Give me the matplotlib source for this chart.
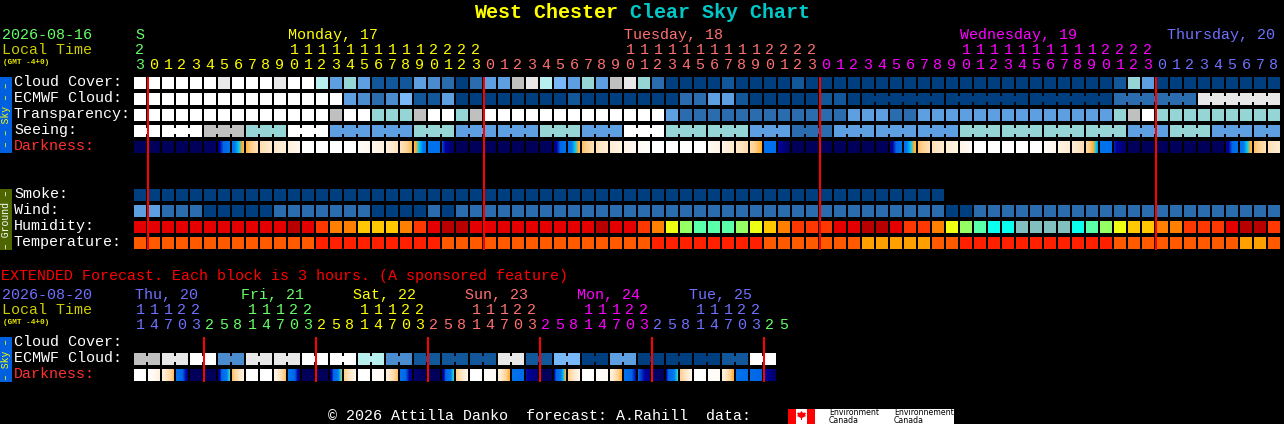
import numpy as np
import matplotlib
matplotlib.use("Agg")
import matplotlib.pyplot as plt
from matplotlib.colors import LinearSegmentedColormap
from matplotlib.patches import Rectangle

# level colours for the sky rows, index = code used in the rows below
SKY_COLORS = ["#003f7f", "#13579b", "#2b6cae", "#4a8ccd", "#5e9fe2", "#78b8f8",
              "#95d5d5", "#b8f0f0", "#c0c0c0", "#e8e8e8", "#ffffff"]

# main chart, one value per hour (82 blocks)
CLOUD = [10, 10, 10, 10, 10, 10, 9, 10, 10, 10, 9, 10, 10, 7, 4, 6, 4, 1, 1, 1, 4, 3, 2, 0,
         2, 4, 4, 8, 9, 7, 5, 4, 6, 4, 8, 9, 6, 2, 0, 0, 0, 0, 1, 0, 0, 0, 0, 1, 0, 0, 0, 0,
         0, 0, 0, 0, 0, 0, 0, 0, 0, 0, 0, 0, 0, 0, 0, 0, 0, 0, 1, 6, 4, 0, 0, 0, 0, 0, 0, 0, 0, 0]
ECMWF = [10, 10, 10, 10, 10, 10, 10, 10, 10, 10, 10, 10, 10, 10, 10, 4, 3, 2, 3, 5, 1, 1, 4, 0,
         0, 0, 0, 0, 0, 0, 0, 1, 0, 0, 0, 0, 0, 0, 0, 2, 2, 4, 4, 1, 0, 0, 0, 0, 0, 1, 1, 0,
         0, 0, 0, 0, 0, 0, 0, 0, 0, 0, 0, 0, 0, 0, 0, 0, 0, 0, 2, 2, 2, 2, 2, 2, 9, 9, 9, 9, 9, 9]
TRANSPARENCY = [10, 10, 10, 10, 10, 10, 10, 10, 10, 10, 10, 10, 10, 10, 8, 10, 10, 6, 6, 6, 8, 10, 10, 6,
                8, 10, 10, 10, 10, 10, 10, 10, 10, 10, 10, 10, 10, 10, 4, 2, 2, 2, 2, 2, 2, 2, 2, 2, 2, 2, 2, 4,
                4, 4, 2, 2, 4, 4, 4, 4, 4, 4, 4, 4, 4, 4, 4, 4, 4, 4, 6, 8, 10, 6, 6, 6, 6, 6, 6, 6, 6, 6]
SEEING = [10, 10, 10, 10, 10, 8, 8, 8, 6, 6, 6, 10, 10, 10, 4, 4, 4, 4, 4, 4, 6, 6, 6, 4,
          4, 4, 4, 4, 4, 6, 6, 6, 4, 4, 4, 10, 10, 10, 6, 6, 6, 6, 6, 6, 4, 4, 4, 2, 2, 2, 4, 4,
          4, 4, 4, 4, 4, 4, 4, 6, 6, 6, 6, 6, 6, 6, 6, 6, 6, 6, 6, 4, 4, 4, 6, 6, 6, 4, 4, 4, 4, 4]
ECMWF_GROUPS = [1] * 52 + [6] * 5
SEEING_GROUPS = [2] + [3] * 26 + [2]

# left and right end of each darkness block, 0 = night, 1 = full day
DARKNESS = [(0, 0), (0, 0), (0, 0), (0, 0), (0, 0), (0.02, 0.02), (0.12, 0.3), (0.32, 0.52), (0.52, 0.7), (0.68, 0.78),
            (0.76, 0.84), (0.84, 0.92), (1, 1), (1, 1), (1, 1), (1, 1), (0.96, 0.92), (0.92, 0.84), (0.84, 0.72), (0.72, 0.54),
            (0.52, 0.32), (0.3, 0.3), (0.18, 0.03), (0, 0), (0, 0), (0, 0), (0, 0), (0, 0), (0, 0), (0.01, 0.01),
            (0.1, 0.3), (0.3, 0.52), (0.55, 0.7), (0.7, 0.8), (0.8, 0.88), (0.88, 0.94), (0.95, 0.98), (1, 1), (1, 1), (1, 1),
            (1, 1), (0.94, 0.88), (0.88, 0.76), (0.76, 0.68), (0.66, 0.5), (0.3, 0.3), (0.13, 0.02), (0, 0), (0, 0), (0, 0),
            (0, 0), (0, 0), (0, 0), (0, 0), (0.1, 0.3), (0.32, 0.52), (0.55, 0.7), (0.7, 0.78), (0.8, 0.88), (0.9, 0.95),
            (1, 1), (1, 1), (1, 1), (1, 1), (1, 1), (0.96, 0.92), (0.88, 0.8), (0.8, 0.68), (0.66, 0.4), (0.3, 0.3),
            (0.16, 0.04), (0, 0), (0, 0), (0, 0), (0, 0), (0, 0), (0, 0), (0, 0), (0.1, 0.3), (0.3, 0.52),
            (0.55, 0.7), (0.7, 0.78)]

SMOKE = [0] * 58
WIND = [4, 4, 2, 2, 2, 0, 0, 0, 0, 0, 2, 2, 2, 2, 2, 2, 2, 0, 0, 0, 0, 2, 0, 2,
        2, 2, 2, 2, 2, 2, 2, 2, 2, 2, 2, 2, 2, 2, 2, 2, 2, 2, 2, 2, 2, 2, 2, 2, 2, 2, 2, 2,
        2, 2, 2, 2, 2, 2, 0, 0, 2, 2, 2, 2, 2, 2, 2, 2, 2, 2, 2, 2, 2, 2, 2, 2, 2, 2, 2, 2, 2, 2]

# humidity steps, driest first
HUMIDITY_COLORS = ["#b80000", "#e40000", "#ff3700", "#ff8000", "#ffc800", "#eeff14",
                   "#96ff64", "#5affaa", "#0affee", "#82c0c0"]
HUMIDITY = [1, 1, 1, 1, 1, 1, 1, 1, 1, 1, 1, 0, 1, 2, 3, 3, 4, 4, 4, 3, 2, 1, 0, 0,
            1, 1, 1, 1, 1, 1, 1, 1, 1, 0, 1, 1, 2, 3, 5, 6, 7, 7, 7, 6, 5, 4, 3, 2, 2, 2, 1, 1,
            0, 0, 1, 2, 2, 3, 5, 6, 7, 8, 8, 9, 9, 9, 9, 8, 7, 6, 5, 4, 4, 3, 3, 2, 2, 2, 1, 0, 0, 2]
TEMP_COLORS = ["#ff2000", "#ff5a00", "#ffa000"]
TEMPERATURE = [1, 1, 1, 1, 1, 1, 1, 1, 1, 1, 1, 1, 1, 0, 0, 0, 0, 0, 0, 0, 0, 0, 1, 1,
               1, 1, 1, 1, 1, 1, 1, 1, 1, 1, 1, 1, 1, 0, 0, 0, 0, 0, 0, 0, 0, 1, 1, 1, 1, 1, 1, 1,
               2, 2, 2, 2, 2, 1, 1, 0, 0, 0, 0, 0, 0, 0, 0, 0, 0, 0, 1, 1, 1, 1, 1, 1, 1, 1, 1, 2, 2, 1]

# hours on top of the main chart
HOURS = [23, 0, 1, 2, 3, 4, 5, 6, 7, 8, 9, 10, 11, 12, 13, 14, 15, 16, 17, 18, 19, 20, 21, 22, 23,
         0, 1, 2, 3, 4, 5, 6, 7, 8, 9, 10, 11, 12, 13, 14, 15, 16, 17, 18, 19, 20, 21, 22, 23,
         0, 1, 2, 3, 4, 5, 6, 7, 8, 9, 10, 11, 12, 13, 14, 15, 16, 17, 18, 19, 20, 21, 22, 23,
         0, 1, 2, 3, 4, 5, 6, 7, 8]
DAY_COLORS = ["#66ff66", "#ffff00", "#ff7070", "#ff00ff", "#7070ff"]
DAY_NAMES = ["S", "Monday, 17", "Tuesday, 18", "Wednesday, 19", "Thursday, 20"]

# extended forecast, one value per 3 hours (46 blocks)
EXT_ECMWF = [8, 8, 9, 9, 10, 10, 3, 3, 9, 9, 9, 9, 10, 10, 10, 10, 7, 7, 3, 3, 1, 1, 1,
             1, 1, 1, 9, 9, 1, 1, 5, 5, 0, 0, 4, 4, 0, 0, 0, 0, 0, 0, 1, 1, 10, 10]
EXT_GROUPS = [2] * 23
EXT_DARKNESS = [(1, 1), (1, 0.85), (0.85, 0.55), (0.3, 0.12), (0, 0), (0, 0), (0.1, 0.45), (0.55, 0.85),
                (1, 1), (1, 1), (0.9, 0.55), (0.35, 0.1), (0, 0), (0, 0), (0.1, 0.48), (0.6, 0.9),
                (1, 1), (0.97, 0.95), (0.85, 0.55), (0.3, 0.1), (0.05, 0), (0, 0), (0.1, 0.45), (0.6, 0.9),
                (1, 1), (0.97, 0.95), (0.85, 0.5), (0.3, 0.25), (0.15, 0.05), (0, 0), (0.15, 0.5), (0.6, 0.9),
                (1, 1), (0.97, 0.96), (0.85, 0.5), (0.3, 0.15), (0.2, 0.1), (0.05, 0), (0.15, 0.45), (0.6, 0.9),
                (1, 1), (0.97, 0.96), (0.85, 0.5), (0.3, 0.25), (0.25, 0.2), (0.15, 0.03)]
EXT_HOURS = [11, 14, 17, 20, 23, 2, 5, 8, 11, 14, 17, 20, 23, 2, 5, 8, 11, 14, 17, 20, 23, 2, 5, 8,
             11, 14, 17, 20, 23, 2, 5, 8, 11, 14, 17, 20, 23, 2, 5, 8, 11, 14, 17, 20, 23, 2, 5]
EXT_DAY_COLORS = ["#7070ff", "#66ff66", "#ffff00", "#ff7070", "#ff00ff", "#7070ff", "#66ff66"]
EXT_DAY_NAMES = ["Thu, 20", "Fri, 21", "Sat, 22", "Sun, 23", "Mon, 24", "Tue, 25"]

# layout in image pixels
X0 = 134
STEP = 14
CELL = 12
FS = 10.8

plt.rcParams["font.family"] = ["Liberation Mono", "DejaVu Sans Mono"]
fig = plt.figure(figsize=(12.84, 4.24), dpi=100, facecolor="black")
ax = fig.add_axes([0, 0, 1, 1])
ax.set_facecolor("black")
ax.axis("off")

dark_cmap = LinearSegmentedColormap.from_list("dark", [
    (0.0, "#00005a"), (0.14, "#0000a0"), (0.2, "#0066e6"), (0.36, "#0078f0"), (0.43, "#00c8f0"), (0.5, "#ffb030"),
    (0.6, "#ffd090"), (0.75, "#ffe8c8"), (0.9, "#fff6ea"), (1.0, "#ffffff")])


def box(x, y, w, h, color, z=2):
    ax.add_patch(Rectangle((x, y), w, h, facecolor=color, edgecolor="none", snap=False, zorder=z))


def draw_row(y, levels, colors, groups=None):
    for i, lev in enumerate(levels):
        box(X0 + i * STEP, y, CELL, CELL, colors[lev])
    if groups is None:
        return
    # blocks of one forecast period are tied together by a narrower band
    start = 0
    for g in groups:
        for i in range(start, start + g - 1):
            box(X0 + i * STEP + CELL, y + 3, STEP - CELL, CELL - 6, colors[levels[i]])
        start += g


def draw_darkness(y, blocks):
    for i, (left, right) in enumerate(blocks):
        x = X0 + i * STEP
        ax.imshow(np.linspace(left, right, CELL).reshape(1, -1), cmap=dark_cmap, vmin=0, vmax=1,
                  extent=(x, x + CELL, y + CELL, y), aspect="auto", interpolation="nearest", zorder=2)


def label(x, y, s, color="white", **kw):
    ax.text(x, y, s, color=color, fontsize=kw.pop("fontsize", FS), va="baseline", **kw)


def hour_labels(hours, colors_for, y_tens, y_ones):
    for i, h in enumerate(hours):
        cx = X0 + i * STEP + CELL / 2
        c = colors_for[i]
        if h >= 10:
            label(cx, y_tens, str(h // 10), c, ha="center")
        label(cx, y_ones, str(h % 10), c, ha="center")


# title
label(474, 18, "West Chester", "#ffff00", fontsize=14.4, fontweight="bold")
label(630, 18, "Clear Sky Chart", "#00c8c8", fontsize=14.4, fontweight="bold")

# main chart header
label(2, 39, "2026-08-16", "#66ff66")
label(2, 54, "Local Time", "#cccc00")
label(3, 64, "(GMT -4+0)", "#e6e600", fontsize=5.6, fontweight="bold")
for name, col, x in zip(DAY_NAMES, DAY_COLORS, [135, 288, 624, 960, 1167]):
    label(x, 39, name, col)
hour_cols = []
day = 0
for i, h in enumerate(HOURS):
    if h == 0:
        day += 1
    hour_cols.append(DAY_COLORS[day])
hour_labels(HOURS, hour_cols, 54, 69)

# sky rows
box(0, 77, 12, 76, "#0060e0")
ax.text(6, 115, "– – Sky – –", color="#ffff00", rotation=90, fontsize=7, ha="center", va="center")
draw_row(77, CLOUD, SKY_COLORS)
draw_row(93, ECMWF, SKY_COLORS, ECMWF_GROUPS)
draw_row(109, TRANSPARENCY, SKY_COLORS)
draw_row(125, SEEING, SKY_COLORS, SEEING_GROUPS)
draw_darkness(141, DARKNESS)
for y, s, c in [(86, "Cloud Cover:", "white"), (102, "ECMWF Cloud:", "white"), (118, "Transparency:", "white"),
                (134, "Seeing:", "white"), (150, "Darkness:", "#ff3030")]:
    label(14, y, s, c)

# ground rows
box(0, 189, 12, 61, "#4d6600")
ax.text(6, 219.5, "– Ground –", color="white", rotation=90, fontsize=7, ha="center", va="center")
draw_row(189, SMOKE, SKY_COLORS)
draw_row(205, WIND, SKY_COLORS)
draw_row(221, HUMIDITY, HUMIDITY_COLORS)
draw_row(237, TEMPERATURE, TEMP_COLORS)
for y, s in [(198, "Smoke:"), (214, "Wind:"), (230, "Humidity:"), (246, "Temperature:")]:
    label(14, y, s)

# midnight lines
for i, h in enumerate(HOURS):
    if h == 0:
        box(X0 + i * STEP - 1, 77, 2, 173, "#ff0000", z=3)

# extended forecast
label(1, 280, "EXTENDED Forecast. Each block is 3 hours. (A sponsored feature)", "#ff0000")
label(2, 299, "2026-08-20", "#7070ff")
label(2, 314, "Local Time", "#cccc00")
label(3, 324, "(GMT -4+0)", "#e6e600", fontsize=5.6, fontweight="bold")
for k, name in enumerate(EXT_DAY_NAMES):
    label(135 if k == 0 else 241 + (k - 1) * 112, 299, name, EXT_DAY_COLORS[k])
ext_cols = []
day = 0
for i, h in enumerate(EXT_HOURS):
    if i > 0 and h < EXT_HOURS[i - 1]:
        day += 1
    ext_cols.append(EXT_DAY_COLORS[day])
hour_labels(EXT_HOURS, ext_cols, 314, 329)

box(0, 337, 12, 45, "#0060e0")
ax.text(6, 359.5, "– Sky –", color="#ffff00", rotation=90, fontsize=7, ha="center", va="center")
draw_row(353, EXT_ECMWF, SKY_COLORS, EXT_GROUPS)
draw_darkness(369, EXT_DARKNESS)
for y, s, c in [(346, "Cloud Cover:", "white"), (362, "ECMWF Cloud:", "white"), (378, "Darkness:", "#ff3030")]:
    label(14, y, s, c)
for i, h in enumerate(EXT_HOURS):
    if i > 0 and h < EXT_HOURS[i - 1]:
        box(X0 + i * STEP - 1, 337, 2, 45, "#ff0000", z=3)

# footer and the Environment Canada logo
label(328, 420, "© 2026 Attilla Danko  forecast: A.Rahill  data:")
box(788, 409, 166, 15, "white")
box(788, 409, 8, 15, "#ff0000")
box(807, 409, 8, 15, "#ff0000")
leaf_x = [801.5, 803, 804, 806, 805, 806, 802, 802, 801, 801, 797, 798, 797, 799, 800]
leaf_y = [411, 413, 412.5, 413, 415, 416, 418, 420, 420, 418, 416, 415, 413, 412.5, 413]
ax.fill(leaf_x, leaf_y, color="#ff0000", lw=0, zorder=3)
for x, s in [(829, "Environment"), (894, "Environnement")]:
    ax.text(x, 415, s, color="black", fontsize=5.6, family="DejaVu Sans", va="baseline", zorder=3)
    ax.text(x, 423, "Canada", color="black", fontsize=5.6, family="DejaVu Sans", va="baseline", zorder=3)

ax.set_xlim(0, 1284)
ax.set_ylim(424, 0)
fig.savefig("out.png", dpi=100, facecolor="black")
